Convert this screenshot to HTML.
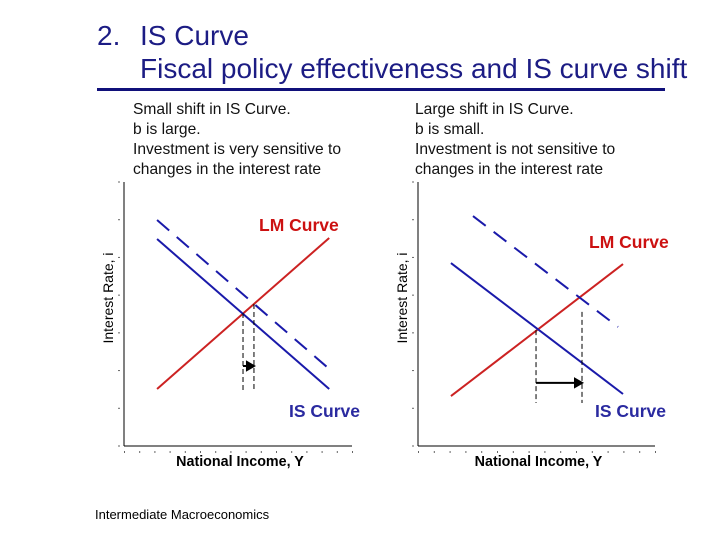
<!DOCTYPE html>
<html><head><meta charset="utf-8"><style>
body{margin:0;background:#fff;}
svg{display:block;font-family:"Liberation Sans",sans-serif;}
</style></head><body>
<svg id="s" width="720" height="540" viewBox="0 0 720 540">
<g fill="#1c1c84" font-size="28">
<text x="97" y="45">2.</text>
<text x="140" y="45">IS Curve</text>
<text x="140" y="78">Fiscal policy effectiveness and IS curve shift</text>
</g>
<rect x="97" y="88" width="568" height="3" fill="#10107a"/>
<g font-size="15.6" fill="#111">
<text x="133" y="114">Small shift in IS Curve.</text>
<text x="133" y="134">b is large.</text>
<text x="133" y="154">Investment is very sensitive to</text>
<text x="133" y="174">changes in the interest rate</text>
</g>
<g font-size="15.6" fill="#111">
<text x="415" y="114">Large shift in IS Curve.</text>
<text x="415" y="134">b is small.</text>
<text x="415" y="154">Investment is not sensitive to</text>
<text x="415" y="174">changes in the interest rate</text>
</g>
<text x="95" y="519" font-size="13" fill="#000">Intermediate Macroeconomics</text>
<g id="c1"></g>
<g id="c2"></g>
</svg>
<script>
// chart data in axis units (0..10)
const lm1 = [[1.45,2.16],[9.0,7.88]];
const is1 = [[1.45,7.84],[9.0,2.16]];
const isNew1 = [[1.45,8.56],[9.0,2.92]];
const eqX1 = [5.22,5.70];
const eqTop1 = [5.04,5.38];
const eqBottom1 = 2.08;
const arrowY1 = 3.03;
const lm2 = [[1.39,1.89],[8.65,6.89]];
const is2 = [[1.39,6.93],[8.65,1.97]];
const isNew2 = [[2.32,8.71],[8.44,4.51]];
const eqX2 = [4.98,6.92];
const eqTop2 = [4.39,5.08];
const eqBottom2 = 1.63;
const arrowY2 = 2.39;

const NS="http://www.w3.org/2000/svg";
function mk(p,tag,attrs){const e=document.createElementNS(NS,tag);for(const k in attrs)e.setAttribute(k,attrs[k]);p.appendChild(e);return e;}
function draw(g,cfg){
  const xs=v=>cfg.x0+(cfg.x1-cfg.x0)*v/10, ys=v=>cfg.y0-(cfg.y0-182)*v/10;
  let a=mk(g,'line',{x1:cfg.x0,y1:182,x2:cfg.x0,y2:cfg.y0,stroke:'#000','stroke-width':1});
  
  
  a=mk(g,'line',{x1:cfg.x0,y1:cfg.y0,x2:cfg.x1,y2:cfg.y0,stroke:'#000','stroke-width':1});
  
  
  for(let i=0;i<=7;i++){const t=mk(g,'rect',{x:cfg.x0-6,y:ys(i*10/7)-0.5,width:2,height:1,fill:'#666'});
    
    }
  for(let i=0;i<=15;i++){const t=mk(g,'rect',{x:xs(i*10/15),y:cfg.y0+5,width:1,height:2,fill:'#666'});
    
    }
  const ln=(d,col,dash,name)=>{const l=mk(g,'line',{x1:xs(d[0][0]),y1:ys(d[0][1]),x2:xs(d[1][0]),y2:ys(d[1][1]),stroke:col,'stroke-width':2});
    if(dash)l.setAttribute('stroke-dasharray',dash);
    
    };
  ln(cfg.lm,'#cc2222',null,'lm-curve');
  ln(cfg.is,'#1a1aaa',null,'is-curve');
  ln(cfg.isNew,'#1a1aaa','16,10','is-curve-shifted');
  cfg.eqX.forEach((x,i)=>{const l=mk(g,'line',{x1:xs(x),y1:ys(cfg.eqTop[i]),x2:xs(x),y2:ys(cfg.eqBottom),stroke:'#000','stroke-width':1,'stroke-dasharray':'5,3'});
    
    });
  const ay=ys(cfg.arrowY), ax1=xs(cfg.eqX[0]), ax2=xs(cfg.eqX[1]);
  const ar=mk(g,'path',{d:`M${ax1},${ay}H${ax2-6}M${ax2-7},${ay-4}L${ax2},${ay}L${ax2-7},${ay+4}Z`,stroke:'#000','stroke-width':2,fill:'#000'});
  
  
  let t=mk(g,'text',{x:cfg.lmLab[0],y:cfg.lmLab[1],fill:'#cc1111','font-size':17.5,'font-weight':'bold'});t.textContent='LM Curve';
  
  
  t=mk(g,'text',{x:cfg.isLab[0],y:cfg.isLab[1],fill:'#2a2aa0','font-size':17.5,'font-weight':'bold'});t.textContent='IS Curve';
  
  
  t=mk(g,'text',{x:(cfg.x0+cfg.x1)/2+2,y:466,'text-anchor':'middle','font-size':14.3,'font-weight':'bold',fill:'#000'});t.textContent='National Income, Y';
  
  
  t=mk(g,'text',{x:0,y:0,transform:`translate(${cfg.x0-11},298) rotate(-90)`,'text-anchor':'middle','font-size':14,fill:'#000'});t.textContent='Interest Rate, i';
  
  
}
draw(document.getElementById('c1'),{x0:124,x1:352,y0:446,lm:lm1,is:is1,isNew:isNew1,eqX:eqX1,eqTop:eqTop1,eqBottom:eqBottom1,arrowY:arrowY1,lmLab:[259,231],isLab:[289,417]});
draw(document.getElementById('c2'),{x0:418,x1:655,y0:446,lm:lm2,is:is2,isNew:isNew2,eqX:eqX2,eqTop:eqTop2,eqBottom:eqBottom2,arrowY:arrowY2,lmLab:[589,248],isLab:[595,417]});
</script>
</body></html>
